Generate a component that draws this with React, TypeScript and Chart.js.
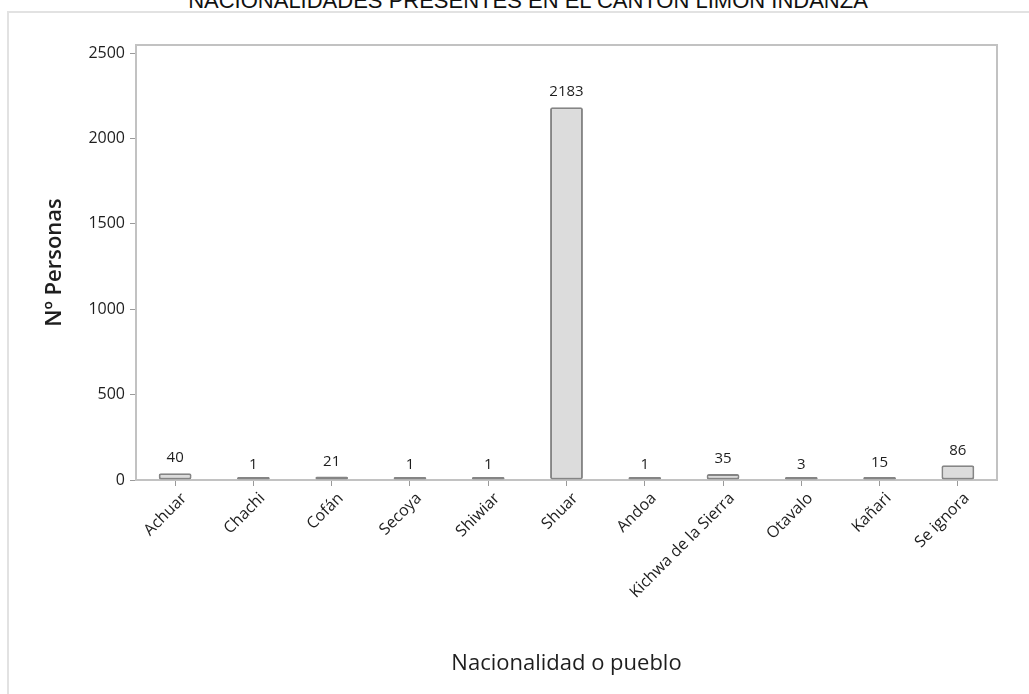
import React, { useEffect, useRef } from "react";
import { Chart, registerables } from "chart.js";

Chart.register(...registerables);

const chartTitle = "NACIONALIDADES PRESENTES EN EL CANTON LIMON INDANZA";
const xTitle = "Nacionalidad o pueblo";
const yTitle = "Nº Personas";
const categories = [
  "Achuar",
  "Chachi",
  "Cofán",
  "Secoya",
  "Shiwiar",
  "Shuar",
  "Andoa",
  "Kichwa de la Sierra",
  "Otavalo",
  "Kañari",
  "Se ignora",
];
const personas = [40, 1, 21, 1, 1, 2183, 1, 35, 3, 15, 86];
const yTicks = [0, 500, 1000, 1500, 2000, 2500];
const yMax = 2547;

const FONT = '"Open Sans", "Noto Sans", sans-serif';
const TEXT = "#1e1e1e";
const AXIS = "#c2c2c2";
const TICK = "#9a9a9a";

const framePlugin = {
  id: "frame",
  afterDraw(chart: any) {
    const { ctx, chartArea } = chart;
    ctx.save();
    ctx.strokeStyle = AXIS;
    ctx.lineWidth = 2;
    ctx.beginPath();
    ctx.moveTo(chartArea.left, chartArea.top);
    ctx.lineTo(chartArea.right, chartArea.top);
    ctx.lineTo(chartArea.right, chartArea.bottom);
    ctx.stroke();
    ctx.restore();
  },
};

const valueLabelPlugin = {
  id: "valueLabels",
  afterDatasetsDraw(chart: any) {
    const { ctx } = chart;
    const meta = chart.getDatasetMeta(0);
    const yScale = chart.scales.y;
    ctx.save();
    ctx.font = `15px ${FONT}`;
    ctx.fillStyle = TEXT;
    ctx.textAlign = "center";
    ctx.textBaseline = "middle";
    meta.data.forEach((el: any, i: number) => {
      const v = personas[i];
      ctx.fillText(String(v), el.x, yScale.getPixelForValue(v) - 15);
    });
    ctx.restore();
  },
};

export default function App() {
  const canvasRef = useRef<HTMLCanvasElement | null>(null);

  useEffect(() => {
    const canvas = canvasRef.current;
    if (!canvas) return;
    const chart = new Chart(canvas, {
      type: "bar",
      data: {
        labels: categories,
        datasets: [
          {
            label: yTitle,
            data: personas,
            backgroundColor: "#dcdcdc",
            borderColor: "#858585",
            borderWidth: 2,
            borderSkipped: false,
            borderRadius: 2,
            minBarLength: 3,
            barPercentage: 0.42,
            categoryPercentage: 1,
          },
        ],
      },
      options: {
        animation: false,
        responsive: false,
        maintainAspectRatio: false,
        layout: { padding: { top: 45, right: 32, bottom: 0, left: 0 } },
        plugins: {
          legend: { display: false },
          tooltip: { enabled: false },
          title: { display: false },
        },
        scales: {
          x: {
            afterFit: (s: any) => {
              s.height = 214;
            },
            grid: {
              offset: false,
              drawOnChartArea: false,
              drawTicks: true,
              tickLength: 6,
              color: TICK,
            },
            border: { display: true, color: AXIS, width: 2 },
            ticks: {
              autoSkip: false,
              maxRotation: 45,
              minRotation: 45,
              padding: 3,
              labelOffset: 9,
              color: TEXT,
              font: { family: FONT, size: 16 },
            },
            title: {
              display: true,
              text: xTitle,
              color: TEXT,
              font: { family: FONT, size: 22 },
              padding: { top: 0, bottom: 17 },
            },
          },
          y: {
            min: 0,
            max: yMax,
            afterBuildTicks: (s: any) => {
              s.ticks = yTicks.map((v) => ({ value: v }));
            },
            afterFit: (s: any) => {
              s.width = 136;
            },
            grid: {
              drawOnChartArea: false,
              drawTicks: true,
              tickLength: 6,
              color: TICK,
            },
            border: { display: true, color: AXIS, width: 2 },
            ticks: {
              padding: 5,
              color: TEXT,
              font: { family: FONT, size: 16 },
              callback: (v: any) => String(v),
            },
            title: {
              display: true,
              text: yTitle,
              color: TEXT,
              font: { family: FONT, size: 22, weight: "600" },
              padding: { top: 42, bottom: 0 },
            },
          },
        },
      },
      plugins: [framePlugin, valueLabelPlugin],
    });
    return () => chart.destroy();
  }, []);

  return (
    <div
      style={{
        position: "fixed",
        left: 0,
        top: 0,
        width: 1029,
        height: 694,
        overflow: "hidden",
        background: "#ffffff",
      }}
    >
      <div
        style={{
          position: "absolute",
          left: 7,
          top: 11,
          width: 1100,
          height: 800,
          border: "2px solid #e2e2e2",
          boxSizing: "border-box",
        }}
      />
      <div
        style={{
          position: "absolute",
          left: 0,
          width: 1056,
          top: -9,
          lineHeight: "20px",
          textAlign: "center",
          fontFamily: '"Liberation Sans", Arial, sans-serif',
          fontSize: 22,
          color: "#111",
          whiteSpace: "nowrap",
        }}
      >
        {chartTitle}
      </div>
      <canvas
        ref={canvasRef}
        width={1029}
        height={694}
        style={{ position: "absolute", left: 0, top: 0, width: 1029, height: 694 }}
      />
    </div>
  );
}
